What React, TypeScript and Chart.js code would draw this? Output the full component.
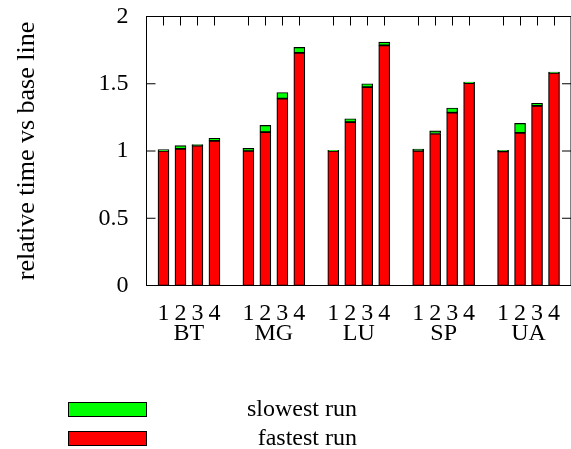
import React, { useEffect, useRef } from 'react';
import { Chart, registerables } from 'chart.js';

Chart.register(...registerables);

// ---- data ----
const groups = ['BT', 'MG', 'LU', 'SP', 'UA'];
const runs = ['1', '2', '3', '4'];
const fastestRun = [
  1.0, 1.015, 1.04, 1.075, // BT
  1.0, 1.14, 1.39, 1.73, // MG
  1.0, 1.215, 1.475, 1.785, // LU
  1.0, 1.13, 1.285, 1.505, // SP
  0.997, 1.135, 1.335, 1.58, // UA
];
const slowestRun = [
  1.01, 1.04, 1.048, 1.095,
  1.02, 1.19, 1.435, 1.77,
  1.005, 1.24, 1.5, 1.81,
  1.015, 1.15, 1.32, 1.512,
  1.005, 1.205, 1.355, 1.587,
];
const yTicks = [0, 0.5, 1, 1.5, 2];
const yTitle = 'relative time vs base line';
const seriesLabels = { slow: 'slowest run', fast: 'fastest run' };
const seriesColors = { slow: '#00ff00', fast: '#ff0000' };

const FONT_FAMILY = '"Liberation Serif", "Times New Roman", serif';
const slotsPerGroup = runs.length + 1;
const slot = (g: number, r: number) => g * slotsPerGroup + r;

const barPositions: number[] = [];
const barLabels: Record<number, string> = {};
groups.forEach((_, g) =>
  runs.forEach((lab, r) => {
    barPositions.push(slot(g, r));
    barLabels[slot(g, r)] = lab;
  })
);
const groupCenters = groups.map((_, g) => slot(g, (runs.length - 1) / 2));

const framePlugin = {
  id: 'gnuFrame',
  beforeDatasetsDraw(chart: any) {
    const { ctx, chartArea: a, scales } = chart;
    ctx.save();
    ctx.strokeStyle = '#000';
    ctx.lineWidth = 1;
    ctx.beginPath();
    for (const t of scales.x.ticks) {
      const px = Math.round(scales.x.getPixelForValue(t.value)) + 0.5;
      ctx.moveTo(px, a.top);
      ctx.lineTo(px, a.top + 9);
      ctx.moveTo(px, a.bottom);
      ctx.lineTo(px, a.bottom - 9);
    }
    for (const t of scales.y.ticks) {
      const py = scales.y.getPixelForValue(t.value);
      ctx.moveTo(a.left, py);
      ctx.lineTo(a.left + 9, py);
      ctx.moveTo(a.right, py);
      ctx.lineTo(a.right - 9, py);
    }
    ctx.stroke();
    ctx.restore();
  },
  afterDatasetsDraw(chart: any) {
    const { ctx, chartArea: a } = chart;
    ctx.save();
    ctx.strokeStyle = '#000';
    ctx.lineWidth = 1;
    ctx.strokeRect(a.left, a.top, a.right - a.left, a.bottom - a.top);
    ctx.restore();
  },
};

const legendPlugin = {
  id: 'gnuLegend',
  afterDraw(chart: any) {
    const { ctx } = chart;
    const ds = [...chart.data.datasets].reverse();
    ctx.save();
    ds.forEach((d: any, i: number) => {
      const top = 402 + i * 29;
      ctx.fillStyle = d.backgroundColor;
      ctx.fillRect(68, top, 79, 15);
      ctx.strokeStyle = '#000';
      ctx.lineWidth = 1;
      ctx.strokeRect(68.5, top + 0.5, 78, 14);
      ctx.fillStyle = '#000';
      ctx.font = `24px ${FONT_FAMILY}`;
      ctx.textAlign = 'right';
      ctx.textBaseline = 'alphabetic';
      ctx.fillText(d.label, 357, top + 14);
    });
    ctx.restore();
  },
};

export default function App() {
  const ref = useRef<HTMLCanvasElement | null>(null);

  useEffect(() => {
    if (!ref.current) return;
    const fastData = fastestRun.map((v, i) => ({
      x: slot(Math.floor(i / runs.length), i % runs.length),
      y: v,
    }));
    const slowData = slowestRun.map((v, i) => ({
      x: slot(Math.floor(i / runs.length), i % runs.length),
      y: v - fastestRun[i],
    }));
    const tickFont = { family: FONT_FAMILY, size: 24, lineHeight: 1 };
    const chart = new Chart(ref.current, {
      type: 'bar',
      data: {
        datasets: [
          {
            label: seriesLabels.fast,
            data: fastData,
            backgroundColor: seriesColors.fast,
            borderColor: '#000',
            borderWidth: 1.2,
            borderSkipped: false,
            barThickness: 11,
          },
          {
            label: seriesLabels.slow,
            data: slowData,
            backgroundColor: seriesColors.slow,
            borderColor: '#000',
            borderWidth: 1.2,
            borderSkipped: false,
            barThickness: 11,
          },
        ],
      },
      options: {
        animation: false,
        responsive: false,
        devicePixelRatio: 1,
        layout: { padding: { left: 0, right: 0, top: 16.5, bottom: 85.5 } },
        plugins: { legend: { display: false }, tooltip: { enabled: false } },
        scales: {
          x: {
            type: 'linear',
            position: 'bottom',
            weight: 1,
            min: -1,
            max: 24,
            offset: false,
            stacked: true,
            grid: { display: false, drawTicks: true, tickLength: 16, offset: false },
            border: { display: false },
            ticks: {
              font: tickFont,
              color: '#000',
              padding: 0,
              autoSkip: false,
              maxRotation: 0,
              callback: (v: any) => barLabels[Math.round(Number(v))] ?? '',
            },
            afterBuildTicks: (s: any) => {
              s.ticks = barPositions.map((v) => ({ value: v }));
            },
            afterFit: (s: any) => {
              s.height = 38;
            },
          },
          x2: {
            type: 'linear',
            position: 'bottom',
            weight: 2,
            min: -1,
            max: 24,
            offset: false,
            grid: { display: false, drawTicks: false, offset: false },
            border: { display: false },
            ticks: {
              font: tickFont,
              color: '#000',
              padding: -1.5,
              autoSkip: false,
              maxRotation: 0,
              callback: (v: any) => {
                const idx = groupCenters.findIndex((c) => Math.abs(c - Number(v)) < 1e-6);
                return idx >= 0 ? groups[idx] : '';
              },
            },
            afterBuildTicks: (s: any) => {
              s.ticks = groupCenters.map((v) => ({ value: v }));
            },
            afterFit: (s: any) => {
              s.height = 40;
            },
          },
          y: {
            type: 'linear',
            min: 0,
            max: 2,
            stacked: true,
            grid: { display: false, drawTicks: true, tickLength: 18 },
            border: { display: false },
            ticks: {
              font: { family: FONT_FAMILY, size: 24 },
              color: '#000',
              padding: 0,
              callback: (v: any) => String(v),
            },
            afterBuildTicks: (s: any) => {
              s.ticks = yTicks.map((v) => ({ value: v }));
            },
            title: {
              display: true,
              text: yTitle,
              font: { family: FONT_FAMILY, size: 26 },
              color: '#000',
              padding: { top: 11.5, bottom: 0 },
            },
            afterFit: (s: any) => {
              s.width = 146.5;
            },
          },
        },
      },
      plugins: [framePlugin, legendPlugin],
    } as any);
    return () => chart.destroy();
  }, []);

  return (
    <div style={{ position: 'fixed', left: 0, top: 0, width: 571, height: 449, background: '#fff' }}>
      <canvas ref={ref} width={571} height={449} style={{ width: 571, height: 449, display: 'block' }} />
    </div>
  );
}
